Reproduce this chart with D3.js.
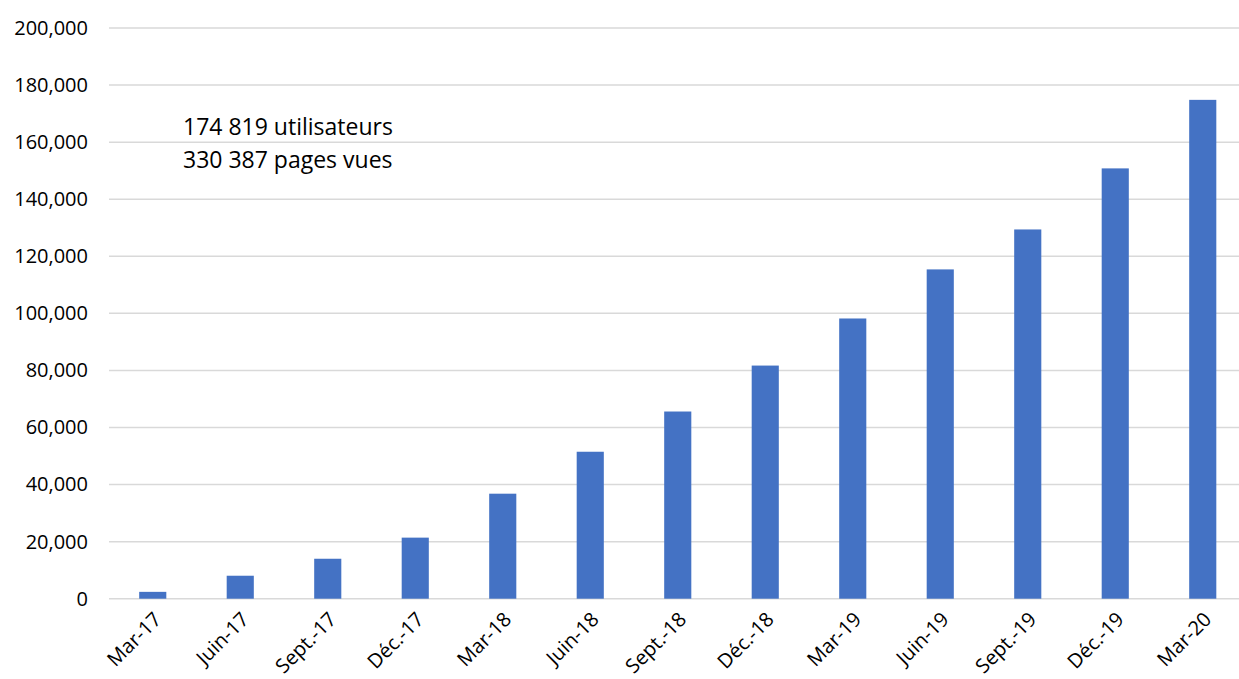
<!DOCTYPE html>
<html>
<head>
<meta charset="utf-8">
<script src="https://cdn.jsdelivr.net/npm/d3@7"></script>
<style>
  body { margin: 0; background: #fff; }
</style>
</head>
<body>
<div id="chart"></div>
<script>
const categories = ["Mar-17", "Juin-17", "Sept.-17", "Déc.-17", "Mar-18", "Juin-18", "Sept.-18",
                    "Déc.-18", "Mar-19", "Juin-19", "Sept.-19", "Déc.-19", "Mar-20"];
const users = [2400, 8050, 14000, 21400, 36800, 51500, 65600, 81700, 98200, 115400, 129400, 150800, 174819];
const yTicks = [0, 20000, 40000, 60000, 80000, 100000, 120000, 140000, 160000, 180000, 200000];
const notes = ["174 819 utilisateurs", "330 387 pages vues"];

const width = 1239, height = 679;
const margin = {top: 28, right: 0, bottom: 81, left: 109};
const font = "'Open Sans', sans-serif";

const svg = d3.select("#chart").append("svg")
  .attr("width", width)
  .attr("height", height);

let visWidth = 1137.5;
let visHeight = height - margin.top - margin.bottom + 0.7;

const g = svg.append("g").attr("transform", `translate(${margin.left}, ${margin.top})`);

let x = d3.scaleBand().domain(categories).range([0, visWidth]).paddingInner(0.69).paddingOuter(0.345);
let y = d3.scaleLinear().domain([0, 200000]).range([visHeight, 0]);

// grid lines
g.append("g")
  .selectAll("line")
  .data(yTicks)
  .join("line")
    .attr("x1", 0)
    .attr("x2", width - margin.left)
    .attr("y1", d => y(d))
    .attr("y2", d => y(d))
    .attr("stroke", "#d9d9d9")
    .attr("stroke-width", 1.5);

// y axis labels
const yAxis = d3.axisLeft(y).tickValues(yTicks).tickSize(0).tickPadding(21).tickFormat(d3.format(","));
g.append("g")
  .call(yAxis)
  .call(a => a.select(".domain").remove())
  .selectAll("text")
    .attr("font-family", font)
    .attr("font-size", "20px")
    .attr("fill", "#000");

// bars
g.selectAll("rect.bar")
  .data(users)
  .join("rect")
    .attr("class", "bar")
    .attr("x", (d, i) => x(categories[i]))
    .attr("width", x.bandwidth())
    .attr("y", d => y(d))
    .attr("height", d => visHeight - y(d))
    .attr("fill", "#4472c4");

// x axis
const xAxis = d3.axisBottom(x).tickSize(0).tickPadding(0);
g.append("g")
  .attr("transform", `translate(0, ${visHeight})`)
  .call(xAxis)
  .call(a => a.select(".domain").remove())
  .selectAll("text")
    .attr("font-family", font)
    .attr("font-size", "20px")
    .attr("fill", "#000")
    .attr("text-anchor", "end")
    .attr("dy", "0.35em")
    .attr("transform", "translate(5, 17) rotate(-45)");

// annotation
g.append("g")
  .selectAll("text")
  .data(notes)
  .join("text")
    .attr("x", 74)
    .attr("y", (d, i) => 107 + i * 33)
    .attr("font-family", font)
    .attr("font-size", "23px")
    .attr("fill", "#000")
    .text(d => d);
</script>
</body>
</html>
